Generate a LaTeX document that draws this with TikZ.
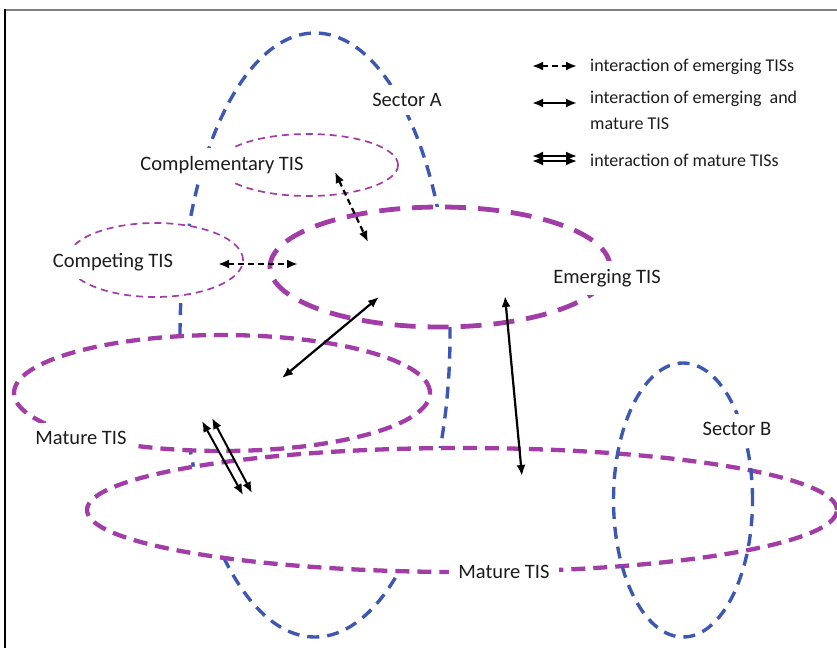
\documentclass[tikz,border=0pt]{standalone}
\usepackage{fontspec}
\setmainfont{Carlito}
\usetikzlibrary{shapes.geometric,arrows.meta}
\definecolor{sectorblue}{RGB}{62,88,176}
\definecolor{tismag}{RGB}{162,60,166}
\definecolor{inktext}{RGB}{28,28,28}

\begin{document}
\begin{tikzpicture}[x=1pt,y=-1pt,
  sector/.style={ellipse, draw=sectorblue, line width=3.4pt,
    dash pattern=on 12pt off 8pt, inner sep=0pt},
  thintis/.style={ellipse, draw=tismag, fill=white, line width=1.7pt,
    dash pattern=on 7pt off 5pt, inner sep=0pt},
  emergtis/.style={ellipse, draw=tismag, fill=white, line width=4.8pt,
    dash pattern=on 21pt off 12pt, inner sep=0pt},
  maturetis/.style={ellipse, draw=tismag, fill=white, line width=4.3pt,
    dash pattern=on 14pt off 8pt, inner sep=0pt},
  lbl/.style={fill=white, text=inktext, inner xsep=6pt, inner ysep=8pt,
    font=\fontsize{20.5}{24}\selectfont},
  legtext/.style={text=inktext, inner sep=0pt, anchor=west, align=left,
    font=\fontsize{18}{26}\selectfont},
  tip/.style={{Latex[length=11pt,width=9pt]}-{Latex[length=11pt,width=9pt]}},
  emlink/.style={tip, line width=2.2pt, dash pattern=on 6pt off 4pt},
  mixlink/.style={tip, line width=2.2pt},
  matlink/.style={tip, line width=2pt},
]
\useasboundingbox (0,0) rectangle (837,648);

% frame edges
\draw[gray, line width=2.8pt] (4,10) -- (837,10);
\draw[black, line width=1.2pt] (5,9) -- (5,648);

% sector A sits behind all the TIS ellipses
\node[sector, minimum width=270pt, minimum height=604pt] (sectorA) at (315,335) {};

% technological innovation systems
\node[thintis, minimum width=180pt, minimum height=62pt] (complementary) at (308,165) {};
\node[thintis, minimum width=176pt, minimum height=74pt] (competing) at (155,260) {};
\node[emergtis, minimum width=340pt, minimum height=120pt] (emerging) at (440,267) {};
\node[maturetis, minimum width=416pt, minimum height=116pt] (matureUp) at (222,393) {};
\node[maturetis, minimum width=750pt, minimum height=124pt] (matureLow) at (462,510) {};

% sector B lies on top
\node[sector, minimum width=139pt, minimum height=274pt] (sectorB) at (683,500) {};

% labels
\node[lbl] (labSectorA) at (407,100) {Sector A};
\node[lbl] (labCompl) at (222,165) {Complementary TIS};
\node[lbl] (labComp) at (113,262) {Competing TIS};
\node[lbl] (labEmerg) at (607,278) {Emerging TIS};
\node[lbl] (labMatUp) at (81,438) {Mature TIS};
\node[lbl] (labSectorB) at (737,429) {Sector B};
\node[lbl, inner xsep=9pt] (labMatLow) at (504,572) {Mature TIS};

% interaction arrow end points
\coordinate (complA) at (335,172);
\coordinate (emergA) at (368,242);
\coordinate (compB) at (218,264);
\coordinate (emergB) at (298,264);
\coordinate (emergC) at (379,297);
\coordinate (matUpC) at (282,378);
\coordinate (emergD) at (505,296);
\coordinate (matLowD) at (522,476);
\coordinate (matUpE1) at (202,421);
\coordinate (matLowE1) at (243,495);
\coordinate (matUpE2) at (212,418);
\coordinate (matLowE2) at (252,493);

\draw[emlink] (complA) -- (emergA);
\draw[emlink] (compB) -- (emergB);
\draw[mixlink] (emergC) -- (matUpC);
\draw[mixlink] (emergD) -- (matLowD);
\draw[matlink] (matUpE1) -- (matLowE1);
\draw[matlink] (matUpE2) -- (matLowE2);

% legend
\coordinate (legA1) at (532,66);
\coordinate (legA2) at (577,66);
\coordinate (legB1) at (532,103);
\coordinate (legB2) at (577,103);
\coordinate (legC1) at (532,156);
\coordinate (legC2) at (577,156);
\coordinate (legD1) at (532,161);
\coordinate (legD2) at (577,161);
\draw[emlink] (legA1) -- (legA2);
\draw[mixlink] (legB1) -- (legB2);
\draw[matlink] (legC1) -- (legC2);
\draw[matlink] (legD1) -- (legD2);

\node[legtext] (legTextA) at (590,67) {interaction of emerging TISs};
\node[legtext, anchor=north west] (legTextB) at (590,91) {interaction of emerging~ and\\mature TIS};
\node[legtext] (legTextC) at (590,160) {interaction of mature TISs};
\end{tikzpicture}
\end{document}
